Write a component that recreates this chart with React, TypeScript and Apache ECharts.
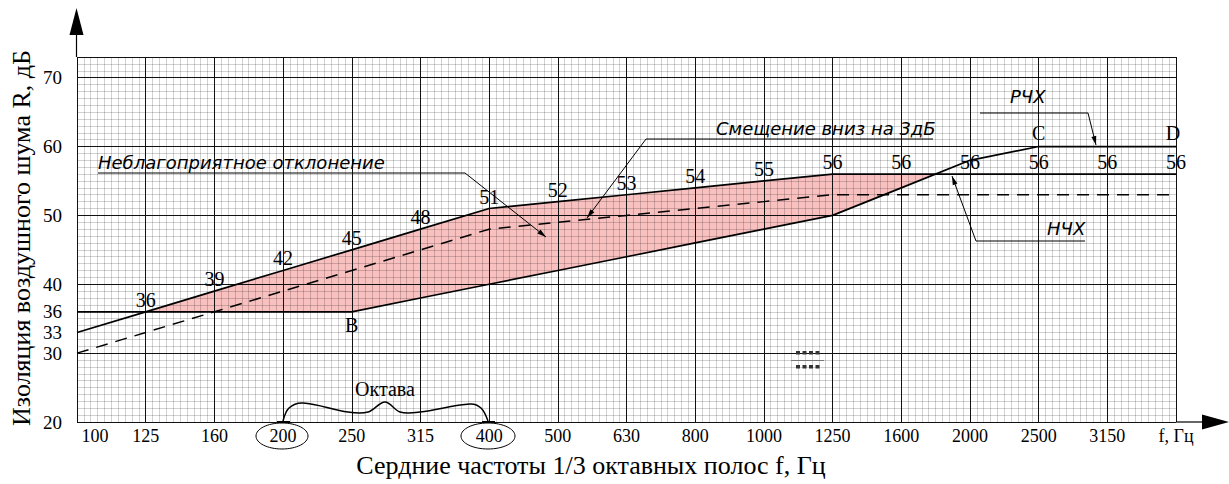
import React, { useEffect, useRef } from "react";
import * as echarts from "echarts";

// ---- data ----
const freqLabels = ["100", "125", "160", "200", "250", "315", "400", "500", "630", "800", "1000", "1250", "1600", "2000", "2500", "3150", "f, Гц"];
const bands = freqLabels.map((_, i) => i);
const referenceCurve = [33, 36, 39, 42, 45, 48, 51, 52, 53, 54, 55, 56, 56, 56, 56, 56, 56];
const measuredCurve = [36, 36, 36, 36, 36, 38, 40, 42, 44, 46, 48, 50, 54, 58, 60, 60, 60];
const shiftedCurve = [30, 33, 36, 39, 42, 45, 48, 49, 50, 51, 52, 53, 53, 53, 53, 53, 53];
const pointNames = ["", "", "", "", "B", "", "", "", "", "", "", "", "", "", "C", "", "D"];
const yTickLabels = [20, 30, 33, 36, 40, 50, 60, 70];

const SERIF = "Liberation Serif, Times New Roman, serif";
const GOST = "DejaVu Sans, sans-serif";

const G = { left: 77, top: 57, right: 53, bottom: 62 };

function arrowHead(x1: number, y1: number, x2: number, y2: number, len = 9, half = 2.5) {
  const a = Math.atan2(y2 - y1, x2 - x1);
  const bx = x2 - len * Math.cos(a);
  const by = y2 - len * Math.sin(a);
  const nx = -Math.sin(a) * half;
  const ny = Math.cos(a) * half;
  return {
    type: "polygon",
    z: 20,
    shape: { points: [[x2, y2], [bx + nx, by + ny], [bx - nx, by - ny]] },
    style: { fill: "#000" },
  };
}

function leader(pts: number[][]) {
  const n = pts.length;
  return [
    { type: "polyline", z: 20, shape: { points: pts }, style: { stroke: "#000", lineWidth: 1, fill: null } },
    arrowHead(pts[n - 2][0], pts[n - 2][1], pts[n - 1][0], pts[n - 1][1]),
  ];
}

function note(text: string, x: number, y: number) {
  return {
    type: "text",
    z: 20,
    x,
    y,
    style: { text, font: `italic 18px ${GOST}`, fill: "#000", align: "left", verticalAlign: "middle" },
  };
}

export default function App() {
  const ref = useRef<HTMLDivElement>(null);
  useEffect(() => {
    if (!ref.current) return;
    const chart = echarts.init(ref.current, null, { renderer: "svg" });

    const fillSeries = {
      type: "custom",
      z: 0,
      xAxisIndex: 1,
      yAxisIndex: 1,
      clip: false,
      silent: true,
      data: [[0, 0]],
      renderItem: (_p: any, api: any) => {
        const pts: { x: number; r: number; m: number }[] = [];
        for (let i = 0; i < bands.length; i++) {
          pts.push({ x: bands[i], r: referenceCurve[i], m: measuredCurve[i] });
          if (i < bands.length - 1) {
            const d0 = referenceCurve[i] - measuredCurve[i];
            const d1 = referenceCurve[i + 1] - measuredCurve[i + 1];
            if (d0 * d1 < 0) {
              const t = d0 / (d0 - d1);
              const r = referenceCurve[i] + t * (referenceCurve[i + 1] - referenceCurve[i]);
              pts.push({ x: bands[i] + t * (bands[i + 1] - bands[i]), r, m: r });
            }
          }
        }
        const top = pts.map((p) => api.coord([p.x, p.r]));
        const bottom = pts
          .slice()
          .reverse()
          .map((p) => api.coord([p.x, Math.min(p.r, p.m)]));
        return {
          type: "polygon",
          shape: { points: top.concat(bottom) },
          style: { fill: "#f9c0c0", stroke: null },
        };
      },
    };

    const tickStyle = { fontFamily: SERIF, fontSize: 18, color: "#000" };
    const labelStyle = { fontFamily: SERIF, fontSize: 20, color: "#000" };

    const option: any = {
      animation: false,
      grid: { left: G.left, top: G.top, right: G.right, bottom: G.bottom },
      xAxis: [
        {
          type: "value",
          position: "bottom",
          min: 0,
          max: 16,
          interval: 0.1,
          z: 1,
          axisLine: { show: false },
          axisTick: { show: false },
          axisLabel: { show: false },
          splitLine: { show: true, lineStyle: { color: "rgba(0,0,0,0.18)", width: 1 } },
        },
        {
          type: "value",
          position: "bottom",
          min: 0,
          max: 16,
          interval: 1,
          z: 3,
          axisLine: { show: false },
          axisTick: { show: false },
          axisLabel: {
            show: true,
            margin: 5,
            ...tickStyle,
            formatter: (v: number) => {
              const i = Math.round(v);
              return i === 0 ? `{first|${freqLabels[i]}}` : freqLabels[i];
            },
            rich: { first: { ...tickStyle, padding: [0, 0, 0, 36] } },
          },
          splitLine: { show: true, lineStyle: { color: "#111", width: 1 } },
        },
      ],
      yAxis: [
        {
          type: "value",
          position: "left",
          min: 20,
          max: 73,
          interval: 1,
          z: 1,
          axisLine: { show: false },
          axisTick: { show: false },
          axisLabel: { show: false },
          splitLine: { show: true, lineStyle: { color: "rgba(0,0,0,0.18)", width: 1 } },
        },
        {
          type: "value",
          position: "left",
          min: 20,
          max: 73,
          interval: 10,
          z: 3,
          axisLine: { show: false },
          axisTick: { show: false },
          axisLabel: {
            show: true,
            margin: 15,
            fontFamily: SERIF,
            fontSize: 19,
            color: "#000",
            customValues: yTickLabels,
          },
          splitLine: { show: true, lineStyle: { color: "#111", width: 1 } },
        },
      ],
      series: [
        fillSeries,
        {
          type: "line",
          name: "reference",
          xAxisIndex: 1,
          yAxisIndex: 1,
          z: 5,
          symbol: "circle",
          symbolSize: 0,
          itemStyle: { color: "#000" },
          lineStyle: { color: "#000", width: 1.7 },
          data: bands.map((b, i) => ({
            value: [b, referenceCurve[i]],
            label: { show: i >= 1, position: "top", distance: 2, ...labelStyle },
          })),
        },
        {
          type: "line",
          name: "measured",
          xAxisIndex: 1,
          yAxisIndex: 1,
          z: 5,
          symbol: "circle",
          symbolSize: 0,
          itemStyle: { color: "#000" },
          lineStyle: { color: "#000", width: 1.7 },
          data: bands.map((b, i) => ({
            value: [b, measuredCurve[i]],
            label: {
              show: pointNames[i] !== "",
              formatter: pointNames[i],
              position: pointNames[i] === "B" ? "bottom" : "top",
              distance: pointNames[i] === "B" ? 3 : 4,
              offset: pointNames[i] === "D" ? [-3, 0] : [0, 0],
              ...labelStyle,
            },
          })),
        },
        {
          type: "line",
          name: "shifted",
          xAxisIndex: 1,
          yAxisIndex: 1,
          z: 5,
          symbol: "none",
          lineStyle: { color: "#000", width: 1.5, type: [12, 8] },
          data: bands.map((b, i) => [b, shiftedCurve[i]]),
        },
      ],
      graphic: [
        // axis arrows
        { type: "line", z: 20, shape: { x1: 76.5, y1: 57, x2: 76.5, y2: 30 }, style: { stroke: "#000", lineWidth: 1.2 } },
        { type: "polygon", z: 20, shape: { points: [[76.5, 8], [69.5, 35], [83.5, 35]] }, style: { fill: "#000" } },
        { type: "line", z: 20, shape: { x1: 1176, y1: 422, x2: 1205, y2: 422 }, style: { stroke: "#000", lineWidth: 1.2 } },
        { type: "polygon", z: 20, shape: { points: [[1229, 422], [1202, 414.5], [1202, 429.5]] }, style: { fill: "#000" } },
        // titles
        {
          type: "text",
          z: 20,
          x: 21,
          y: 238,
          rotation: Math.PI / 2,
          style: { text: "Изоляция воздушного шума R, дБ", font: `26px ${SERIF}`, fill: "#000", align: "center", verticalAlign: "middle" },
        },
        {
          type: "text",
          z: 20,
          x: 591,
          y: 465,
          style: { text: "Сердние частоты 1/3 октавных полос f, Гц", font: `26px ${SERIF}`, fill: "#000", align: "center", verticalAlign: "middle" },
        },
        // annotation: unfavourable deviation
        note("Неблагоприятное отклонение", 98, 162),
        ...leader([[98, 173], [465, 173], [546, 237]]),
        // annotation: shift down 3 dB
        note("Смещение вниз на 3дБ", 716, 128),
        ...leader([[933, 139], [646, 139], [587, 218]]),
        // РЧХ
        note("РЧХ", 1010, 96),
        ...leader([[980, 113], [1088, 113], [1096, 145]]),
        // НЧХ
        note("НЧХ", 1047, 228),
        ...leader([[1085, 241], [976, 241], [952, 176]]),
        // octave brace
        {
          type: "polyline",
          z: 20,
          shape: {
            points: [[283, 421], [289, 408], [303, 403], [348, 412], [368, 412], [385, 402], [400, 412], [420, 412], [470, 404], [481, 408], [488, 421]],
            smooth: 0.35,
          },
          style: { stroke: "#000", lineWidth: 1.5, fill: null },
        },
        { type: "line", z: 20, shape: { x1: 277, y1: 422, x2: 290, y2: 422 }, style: { stroke: "#000", lineWidth: 2 } },
        { type: "line", z: 20, shape: { x1: 482, y1: 422, x2: 495, y2: 422 }, style: { stroke: "#000", lineWidth: 2 } },
        { type: "text", z: 20, x: 385, y: 389, style: { text: "Октава", font: `20px ${SERIF}`, fill: "#000", align: "center", verticalAlign: "middle" } },
        // ellipses around 200 and 400
        { type: "ellipse", z: 20, shape: { cx: 282, cy: 436, rx: 26, ry: 13 }, style: { stroke: "#000", lineWidth: 1, fill: null } },
        { type: "ellipse", z: 20, shape: { cx: 488, cy: 436, rx: 27, ry: 13 }, style: { stroke: "#000", lineWidth: 1, fill: null } },
        // small legend-like mark
        ...[0, 1, 2, 3].map((k) => ({ type: "rect", z: 20, shape: { x: 796 + k * 6.5, y: 351, width: 4, height: 3.5 }, style: { fill: "#333" } })),
        { type: "line", z: 20, shape: { x1: 791, y1: 360.5, x2: 824, y2: 360.5 }, style: { stroke: "#777", lineWidth: 1 } },
        ...[0, 1, 2, 3].map((k) => ({ type: "rect", z: 20, shape: { x: 796 + k * 6.5, y: 365, width: 4, height: 3.5 }, style: { fill: "#333" } })),
      ],
    };

    chart.setOption(option);
    return () => chart.dispose();
  }, []);

  return <div ref={ref} style={{ position: "fixed", left: 0, top: 0, width: 1229, height: 484, background: "#fff" }} />;
}
